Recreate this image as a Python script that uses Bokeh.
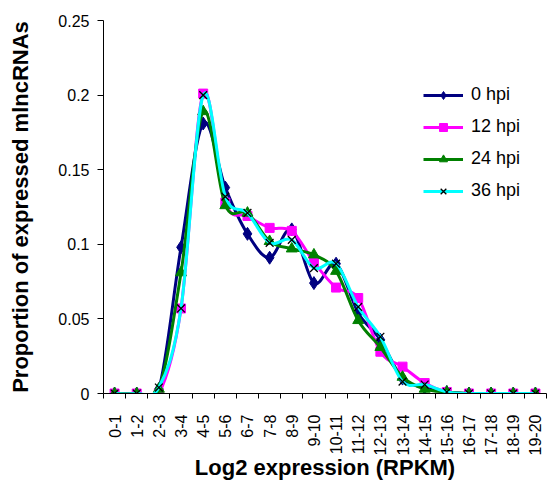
import math
from bokeh.plotting import figure
from bokeh.models import (FixedTicker, CustomJSTickFormatter, Legend, LegendItem,
                          ColumnDataSource, Range1d)
from bokeh.embed import file_html
from bokeh.resources import INLINE

categories = ["0-1", "1-2", "2-3", "3-4", "4-5", "5-6", "6-7", "7-8", "8-9", "9-10",
              "10-11", "11-12", "12-13", "13-14", "14-15", "15-16", "16-17", "17-18",
              "18-19", "19-20"]

hpi_0 = [0, 0, 0.003, 0.098, 0.181, 0.138, 0.107, 0.091, 0.110, 0.074,
         0.087, 0.054, 0.036, 0.010, 0.004, 0.001, 0, 0, 0, 0]
hpi_12 = [0, 0, 0, 0.057, 0.201, 0.128, 0.119, 0.111, 0.109, 0.088,
          0.071, 0.064, 0.028, 0.018, 0.007, 0.001, 0, 0, 0, 0]
hpi_24 = [0, 0, 0.003, 0.081, 0.189, 0.126, 0.121, 0.102, 0.097, 0.093,
          0.082, 0.049, 0.031, 0.011, 0.003, 0.001, 0, 0, 0, 0]
hpi_36 = [0, 0, 0.004, 0.057, 0.200, 0.132, 0.121, 0.101, 0.103, 0.084,
          0.087, 0.058, 0.038, 0.008, 0.006, 0.001, 0, 0, 0, 0]

series_names = ["0 hpi", "12 hpi", "24 hpi", "36 hpi"]
y_ticks = [0, 0.05, 0.1, 0.15, 0.2, 0.25]

FONT = "Liberation Sans"

p = figure(width=549, height=488, output_backend="svg", toolbar_location=None,
           x_range=Range1d(-0.5, len(categories) - 0.5), y_range=Range1d(0, 0.25),
           min_border_left=103, min_border_right=3, min_border_top=20, min_border_bottom=95)
p.outline_line_color = None
p.xgrid.visible = False
p.ygrid.visible = False
p.background_fill_color = "white"
p.border_fill_color = "white"

idx = list(range(len(categories)))


def bezier_source(ys):
    # Smoothed line (Catmull-Rom style control points) built from the data points
    n = len(ys)
    d = dict(x0=[], y0=[], x1=[], y1=[], cx0=[], cy0=[], cx1=[], cy1=[])
    for i in range(n - 1):
        p0 = (idx[max(i - 1, 0)], ys[max(i - 1, 0)])
        p1 = (idx[i], ys[i])
        p2 = (idx[i + 1], ys[i + 1])
        p3 = (idx[min(i + 2, n - 1)], ys[min(i + 2, n - 1)])
        d["x0"].append(p1[0]); d["y0"].append(p1[1])
        d["x1"].append(p2[0]); d["y1"].append(p2[1])
        d["cx0"].append(p1[0] + (p2[0] - p0[0]) / 6.0)
        d["cy0"].append(p1[1] + (p2[1] - p0[1]) / 6.0)
        d["cx1"].append(p2[0] - (p3[0] - p1[0]) / 6.0)
        d["cy1"].append(p2[1] - (p3[1] - p1[1]) / 6.0)
    return ColumnDataSource(d)


styles = [
    dict(color="#000080", marker="diamond", size=13, mline="#000080", lw=1),
    dict(color="#FF00FF", marker="square", size=9, mline="#FF00FF", lw=1),
    dict(color="#008000", marker="triangle", size=11, mline="#008000", lw=1),
    dict(color="#00FFFF", marker="x", size=11, mline="#000000", lw=1.3),
]

items = []
for name, ys, st in zip(series_names, [hpi_0, hpi_12, hpi_24, hpi_36], styles):
    src = bezier_source(ys)
    br = p.bezier(x0="x0", y0="y0", x1="x1", y1="y1", cx0="cx0", cy0="cy0",
                  cx1="cx1", cy1="cy1", source=src, line_color=st["color"], line_width=3)
    sr = p.scatter(idx, ys, marker=st["marker"], size=st["size"],
                   fill_color=st["color"], line_color=st["mline"], line_width=st["lw"])
    items.append(LegendItem(label=name, renderers=[br, sr]))

legend = Legend(items=items, location=(320, 192), border_line_color=None,
                background_fill_alpha=0, padding=0, margin=0, spacing=11,
                glyph_width=40, glyph_height=20, label_height=20, label_standoff=8,
                label_text_font=FONT, label_text_font_size="18px", label_text_color="black")
p.add_layout(legend)

# X axis
xa = p.xaxis[0]
xa.ticker = FixedTicker(ticks=idx, minor_ticks=[i - 0.5 for i in range(len(categories) + 1)])
xa.formatter = CustomJSTickFormatter(args=dict(cats=categories),
                                     code="return cats[Math.round(tick)] || ''")
xa.major_label_orientation = math.pi / 2
xa.major_tick_line_color = None
xa.major_tick_out = 0
xa.major_tick_in = 0
xa.minor_tick_line_color = "black"
xa.minor_tick_out = 5
xa.minor_tick_in = 0
xa.major_label_standoff = 16
xa.major_label_text_font = FONT
xa.major_label_text_font_size = "16px"
xa.major_label_text_color = "black"
xa.axis_line_color = "black"
xa.axis_label = "Log2 expression (RPKM)"
xa.axis_label_text_font = FONT
xa.axis_label_text_font_size = "22px"
xa.axis_label_text_font_style = "bold"
xa.axis_label_text_color = "black"
xa.axis_label_standoff = -3

# Y axis
ya = p.yaxis[0]
ya.ticker = FixedTicker(ticks=y_ticks, minor_ticks=[])
ya.formatter = CustomJSTickFormatter(code="return tick.toString()")
ya.major_tick_out = 6
ya.major_tick_in = 0
ya.minor_tick_line_color = None
ya.major_tick_line_color = "black"
ya.axis_line_color = "black"
ya.major_label_standoff = 8
ya.major_label_text_font = FONT
ya.major_label_text_font_size = "16px"
ya.major_label_text_color = "black"
ya.axis_label = "Proportion of expressed mlncRNAs"
ya.axis_label_text_font = FONT
ya.axis_label_text_font_size = "22px"
ya.axis_label_text_font_style = "bold"
ya.axis_label_text_color = "black"
ya.axis_label_standoff = 22

open("out.html", "w").write(file_html(p, INLINE))
